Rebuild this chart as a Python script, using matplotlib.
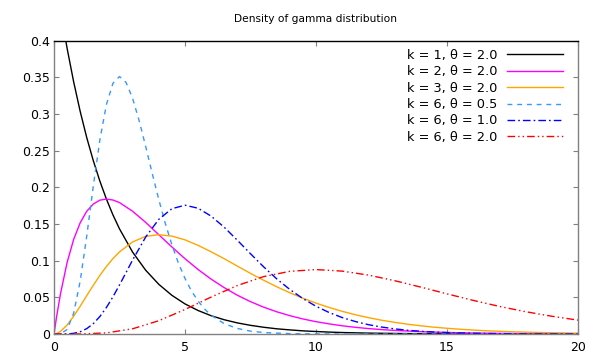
import numpy as np
import matplotlib
matplotlib.use('Agg')
import matplotlib.pyplot as plt

# x grid shared by most curves (finer near the origin)
x = [0, 0.1, 0.25, 0.5, 0.75, 1, 1.25, 1.5, 1.75, 2, 2.25, 2.5] + [3 + i * 0.5 for i in range(35)]

# k=1, theta=2
k1_t2 = [0.5, 0.4756, 0.4412, 0.3894, 0.3437, 0.3033, 0.2676, 0.2362, 0.2084, 0.1839, 0.1623, 0.1433,
         0.1116, 0.0869, 0.0677, 0.0527,
         0.0410, 0.0320, 0.0249, 0.0194, 0.0151, 0.0118, 0.0092, 0.0071, 0.0056, 0.0043,
         0.0034, 0.0026, 0.0020, 0.0016, 0.0012, 0.00097, 0.00075, 0.00059, 0.00046, 0.00036,
         0.00028, 0.00022, 0.00017, 0.00013, 0.00010, 0.00008, 0.00006, 0.00005, 0.00004, 0.00003,
         0.00002]
# k=2, theta=2
k2_t2 = [0.0, 0.0238, 0.0552, 0.0974, 0.1289, 0.1516, 0.1673, 0.1771, 0.1824, 0.1839, 0.1826, 0.1791,
         0.1673, 0.1521, 0.1353, 0.1186,
         0.1026, 0.0879, 0.0747, 0.0631, 0.0528, 0.0441, 0.0366, 0.0303, 0.0250, 0.0205,
         0.0168, 0.0138, 0.0112, 0.0091, 0.0074, 0.0060, 0.0049, 0.0040, 0.0032, 0.0026,
         0.0021, 0.0017, 0.0013, 0.0011, 0.00086, 0.00069, 0.00055, 0.00044, 0.00036, 0.00028,
         0.00023]
# k=3, theta=2
k3_t2 = [0.0, 0.0006, 0.0035, 0.0122, 0.0242, 0.0379, 0.0523, 0.0664, 0.0798, 0.0920, 0.1027, 0.1119,
         0.1255, 0.1331, 0.1353, 0.1334,
         0.1283, 0.1208, 0.1120, 0.1025, 0.0925, 0.0826, 0.0733, 0.0644, 0.0562, 0.0488,
         0.0421, 0.0362, 0.0309, 0.0263, 0.0223, 0.0188, 0.0159, 0.0133, 0.0112, 0.0093,
         0.0078, 0.0065, 0.0054, 0.0044, 0.0037, 0.0030, 0.0025, 0.0021, 0.0017, 0.0014,
         0.0011]
# k=6, theta=1
k6_t1 = [0.0, 0.0, 0.00001, 0.00016, 0.0009, 0.0031, 0.0073, 0.0141, 0.0238, 0.0361, 0.0507, 0.0668,
         0.1008, 0.1322, 0.1563, 0.1708,
         0.1755, 0.1714, 0.1606, 0.1454, 0.1277, 0.1094, 0.0916, 0.0752, 0.0607, 0.0483,
         0.0378, 0.0293, 0.0224, 0.0170, 0.0127, 0.0095, 0.0070, 0.0051, 0.0037, 0.0027,
         0.0019, 0.0014, 0.0010, 0.0007, 0.0005, 0.00034, 0.00024, 0.00017, 0.00012, 0.00008,
         0.00006]

# k=6, theta=0.5 (narrow peak, finer grid)
x_half = [0, 0.25, 0.5, 0.75, 1, 1.25, 1.5, 1.75, 2, 2.25, 2.5, 2.75, 3, 3.25, 3.5, 3.75,
          4, 4.25, 4.5, 4.75, 5, 5.25, 5.5, 5.75, 6, 6.5, 7, 7.5, 8, 9, 10, 12, 20]
k6_t05 = [0.0, 0.0003, 0.0061, 0.0282, 0.0722, 0.1336, 0.2016, 0.2643, 0.3126, 0.3417,
          0.3509, 0.3428, 0.3213, 0.2907, 0.2555, 0.2187, 0.1832, 0.1505, 0.1215, 0.0965,
          0.0757, 0.0586, 0.0448, 0.0340, 0.0255, 0.0140, 0.0075, 0.0039, 0.0020, 0.0005,
          0.0001, 0.0, 0.0]

# k=6, theta=2 (wide, step 1)
x_wide = list(range(21))
k6_t2 = [0.0, 0.00008, 0.0015, 0.0071, 0.0181, 0.0334, 0.0504, 0.0661, 0.0782, 0.0854,
         0.0878, 0.0857, 0.0803, 0.0727, 0.0639, 0.0547, 0.0458, 0.0376, 0.0304, 0.0242,
         0.0189]

labels = ['k = 1, θ = 2.0', 'k = 2, θ = 2.0', 'k = 3, θ = 2.0',
          'k = 6, θ = 0.5', 'k = 6, θ = 1.0', 'k = 6, θ = 2.0']

fig = plt.figure(figsize=(5.99, 3.6), dpi=100)
ax = fig.add_axes([54/599, 1 - 334/360, 524/599, 293.5/360])

lw = 1.0
ax.plot(x, k1_t2, color='black', lw=lw, label=labels[0])
ax.plot(x, k2_t2, color='#ff00ff', lw=lw, label=labels[1])
ax.plot(x, k3_t2, color='#ffa500', lw=lw, label=labels[2])
ax.plot(x_half, k6_t05, color='#3399ff', lw=lw, dashes=(3.5, 3.5), label=labels[3])
ax.plot(x, k6_t1, color='#0000ff', lw=lw, dashes=(5.5, 2.2, 1.2, 2.2), label=labels[4])
ax.plot(x_wide, k6_t2, color='#ff0000', lw=lw, dashes=(5.5, 2.2, 1.0, 2.2, 1.0, 2.2), label=labels[5])

ax.set_xlim(0, 20)
ax.set_ylim(0, 0.4)
ax.set_xticks([0, 5, 10, 15, 20])
ax.set_yticks([0, 0.05, 0.1, 0.15, 0.2, 0.25, 0.3, 0.35, 0.4])
ax.set_yticklabels(['0', '0.05', '0.1', '0.15', '0.2', '0.25', '0.3', '0.35', '0.4'])
ax.tick_params(direction='in', length=3.5, width=0.8, color='#808080',
               top=True, right=True, labelsize=9, labelcolor='black')
ax.tick_params(axis='x', pad=5)
ax.tick_params(axis='y', pad=3)
for side in ['left', 'right', 'bottom']:
    ax.spines[side].set_color('#808080')
    ax.spines[side].set_linewidth(1.0)
ax.spines['top'].set_color('black')
ax.spines['top'].set_linewidth(1.0)

ax.legend(loc='upper right', bbox_to_anchor=(0.9714, 0.971), frameon=False,
          markerfirst=False, fontsize=9.3, handlelength=4.3, handletextpad=0.78,
          labelspacing=0.26, borderpad=0, borderaxespad=0)

fig.text(316/599, 1 - 19/360, 'Density of gamma distribution', ha='center', va='center',
         fontsize=7.7)

fig.savefig('out.png', dpi=100)
